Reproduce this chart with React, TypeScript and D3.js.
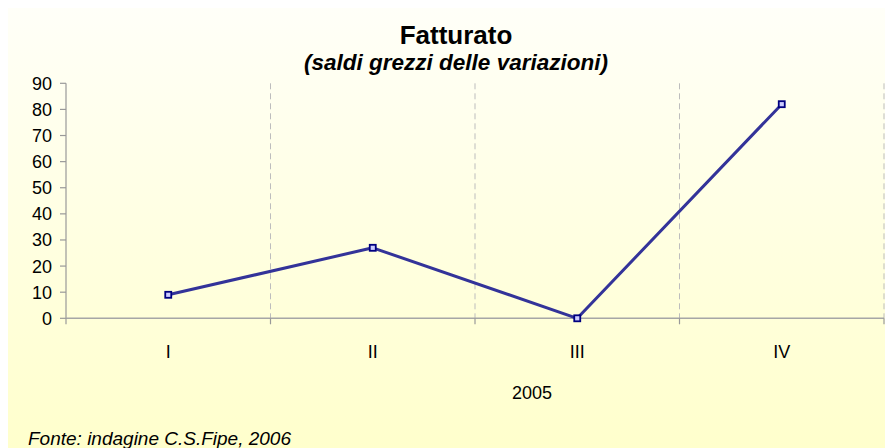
import React from "react";
import * as d3 from "d3";

const categories = ["I", "II", "III", "IV"];
const values = [9, 27, 0, 82];
const yTicks = [0, 10, 20, 30, 40, 50, 60, 70, 80, 90];
const titleText = "Fatturato";
const subtitleText = "(saldi grezzi delle variazioni)";
const xAxisTitle = "2005";
const footerText = "Fonte: indagine C.S.Fipe, 2006";

const W = 885;
const H = 448;
const FONT = "'Liberation Sans', Arial, sans-serif";

export default function App() {
  const left = 66;
  const right = 884;
  const top = 83.3;
  const bottom = 318.3;
  const x = d3.scaleBand<string>().domain(categories).range([left, right]).paddingInner(0).paddingOuter(0);
  const y = d3.scaleLinear().domain([0, 90]).range([bottom, top]);
  const bw = x.bandwidth();
  const boundaries = categories.map((c) => (x(c) as number)).concat([right]);
  const pts: [number, number][] = values.map((v, i) => [(x(categories[i]) as number) + bw / 2, y(v)]);
  const line = d3.line<[number, number]>().x((d) => d[0]).y((d) => d[1]);

  return (
    <div style={{ position: "absolute", left: 0, top: 0, width: W, height: H, margin: 0 }}>
      <svg width={W} height={H} style={{ display: "block" }}>
        <defs>
          <linearGradient id="bg" x1="0" y1="0" x2="0" y2="1">
            <stop offset="0" stopColor="#FFFFF8" />
            <stop offset="1" stopColor="#FFFFCC" />
          </linearGradient>
        </defs>
        <rect x={0} y={0} width={W} height={H} fill="#FFFFFF" />
        <rect x={8} y={8} width={W - 8} height={H - 8} fill="url(#bg)" />
        {boundaries.slice(1).map((bx, i) => (
          <line key={"g" + i} x1={bx} x2={bx} y1={top} y2={bottom} stroke="#BDBDBD" strokeWidth={1} strokeDasharray="6,4" />
        ))}
        <line x1={left} x2={left} y1={top} y2={bottom} stroke="#999999" strokeWidth={1.2} />
        {yTicks.map((t) => (
          <g key={"y" + t}>
            <line x1={left - 6} x2={left} y1={y(t)} y2={y(t)} stroke="#999999" strokeWidth={1.2} />
            <text x={52} y={y(t)} dy="0.36em" textAnchor="end" fontFamily={FONT} fontSize={18} fill="#000">
              {t}
            </text>
          </g>
        ))}
        <line x1={left} x2={right} y1={bottom} y2={bottom} stroke="#A6A6A6" strokeWidth={1.5} />
        {boundaries.map((bx, i) => (
          <line key={"xt" + i} x1={bx} x2={bx} y1={bottom} y2={bottom + 6} stroke="#999999" strokeWidth={1.2} />
        ))}
        {categories.map((c) => (
          <text key={"xl" + c} x={(x(c) as number) + bw / 2} y={358} textAnchor="middle" fontFamily={FONT} fontSize={18} fill="#000">
            {c}
          </text>
        ))}
        <text x={532} y={399} textAnchor="middle" fontFamily={FONT} fontSize={18} fill="#000">
          {xAxisTitle}
        </text>
        <path d={line(pts) || ""} fill="none" stroke="#333399" strokeWidth={3} strokeLinejoin="round" />
        {pts.map((p, i) => (
          <rect key={"m" + i} x={p[0] - 3} y={p[1] - 3} width={6} height={6} fill="#CCCCFF" stroke="#000080" strokeWidth={1.8} />
        ))}
        <text x={456} y={44} textAnchor="middle" fontFamily={FONT} fontSize={26} fontWeight="bold" fill="#000">
          {titleText}
        </text>
        <text x={456} y={70} textAnchor="middle" fontFamily={FONT} fontSize={22.5} fontWeight="bold" fontStyle="italic" fill="#000">
          {subtitleText}
        </text>
        <text x={28} y={445} fontFamily={FONT} fontSize={19} fontStyle="italic" fill="#000">
          {footerText}
        </text>
      </svg>
    </div>
  );
}
